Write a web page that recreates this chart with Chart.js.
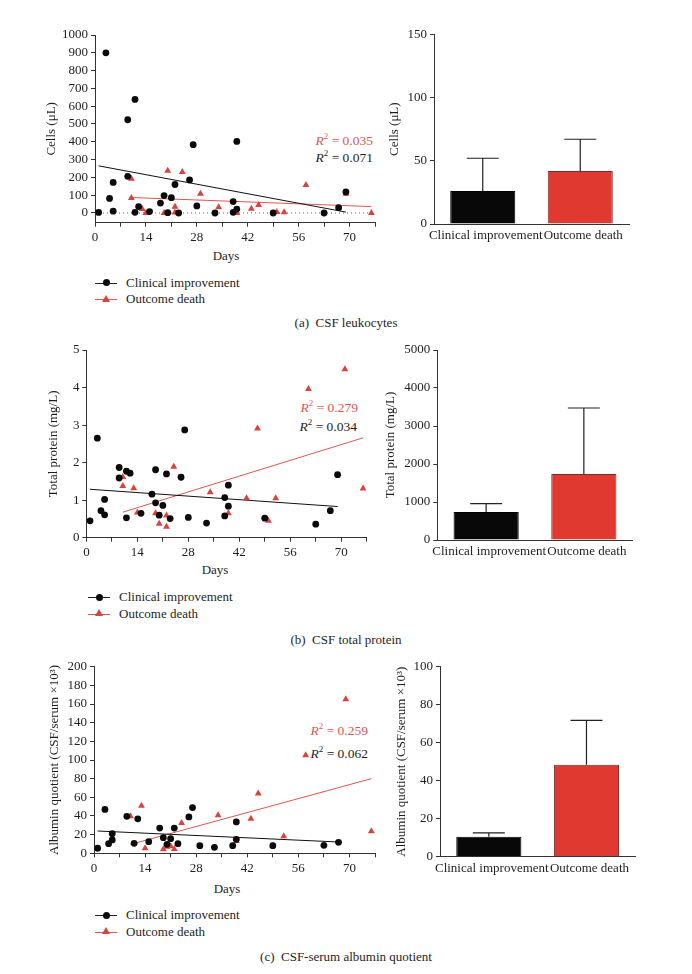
<!DOCTYPE html>
<html>
<head>
<meta charset="utf-8">
<script src="https://cdn.jsdelivr.net/npm/chart.js@4.4.1/dist/chart.umd.min.js"></script>
<style>
  body { margin: 0; background: #fff; }
  #fig { position: relative; width: 692px; height: 974px; font-family: "Liberation Serif", serif; color: #1e1e1e; overflow: hidden; }
  #fig canvas { position: absolute; }
  .note { position: absolute; font-size: 13.5px; white-space: nowrap; transform: translate(-100%, -50%); line-height: 16px; }
  .note sup { font-size: 9px; vertical-align: 6px; line-height: 0; }
  .note.red { color: #e0554f; }
  .xtitle { position: absolute; font-size: 13px; transform: translate(-50%, -50%); }
  .caption { position: absolute; left: 0; width: 692px; text-align: center; font-size: 13px; transform: translateY(-50%); }
  .legend { position: absolute; font-size: 13px; }
  .legend div { position: relative; height: 16.5px; line-height: 16.5px; padding-left: 31px; white-space: nowrap; }
  .legend .ln { position: absolute; left: 0; top: 8px; width: 22px; height: 1px; background: #222; }
  .legend .ln.red { background: #e0554f; }
  .legend .dot { position: absolute; left: 7.5px; top: 4.5px; width: 7px; height: 7px; border-radius: 50%; background: #0b0b0b; }
  .legend .tri { position: absolute; left: 7px; top: 3.5px; width: 0; height: 0; border-left: 4px solid transparent; border-right: 4px solid transparent; border-bottom: 7px solid #d8433d; }
</style>
</head>
<body>
<div id="fig">
  <div class="note red" style="left:373px;top:141px"><i>R</i><sup>2</sup> = 0.035</div>
  <div class="note" style="left:373px;top:158px"><i>R</i><sup>2</sup> = 0.071</div>
  <div class="xtitle" style="left:226px;top:256px">Days</div>
  <div class="legend" style="left:95px;top:274.5px">
    <div><span class="ln"></span><span class="dot"></span>Clinical improvement</div>
    <div><span class="ln red"></span><span class="tri"></span>Outcome death</div>
  </div>
  <div class="caption" style="top:323px">(a)&nbsp;&nbsp;CSF leukocytes</div>

  <div class="note red" style="left:358px;top:408px"><i>R</i><sup>2</sup> = 0.279</div>
  <div class="note" style="left:357px;top:427px"><i>R</i><sup>2</sup> = 0.034</div>
  <div class="xtitle" style="left:215px;top:570px">Days</div>
  <div class="legend" style="left:88px;top:589px">
    <div><span class="ln"></span><span class="dot"></span>Clinical improvement</div>
    <div><span class="ln red"></span><span class="tri"></span>Outcome death</div>
  </div>
  <div class="caption" style="top:640px">(b)&nbsp;&nbsp;CSF total protein</div>

  <div class="note red" style="left:368px;top:731px"><i>R</i><sup>2</sup> = 0.259</div>
  <div class="note" style="left:368px;top:754px"><i>R</i><sup>2</sup> = 0.062</div>
  <div class="xtitle" style="left:227px;top:889px">Days</div>
  <div class="legend" style="left:95px;top:907px">
    <div><span class="ln"></span><span class="dot"></span>Clinical improvement</div>
    <div><span class="ln red"></span><span class="tri"></span>Outcome death</div>
  </div>
  <div class="caption" style="top:957px">(c)&nbsp;&nbsp;CSF-serum albumin quotient</div>
</div>
<script>
// ---- data ----
const groups = ['Clinical improvement', 'Outcome death'];
const dayTicks = [0, 7, 14, 21, 28, 35, 42, 49, 56, 63, 70, 77];

// (a) CSF leukocytes
const leukoImpDays = [1, 3, 4, 5, 5, 9, 9, 11, 11, 12, 15, 18, 19, 20, 21, 22, 23, 26, 27, 28, 33, 38, 38, 39, 39, 49, 63, 67, 69];
const leukoImp     = [3, 900, 82, 172, 10, 524, 206, 638, 4, 36, 8, 56, 98, 2, 86, 160, 0, 186, 384, 40, 0, 64, 4, 402, 22, 0, 0, 30, 118];
const leukoDeathDays = [10, 10, 13, 14, 19, 20, 22, 22, 24, 29, 34, 39, 43, 45, 50, 52, 58, 69, 76];
const leukoDeath     = [192, 84, 22, 0, 0, 238, 35, 3, 230, 108, 32, 0, 24, 45, 6, 4, 158, 108, 0];
const leukoImpFitDays = [1, 69],  leukoImpFit = [265, 5];
const leukoDeathFitDays = [10, 76], leukoDeathFit = [87, 36];
const leukoZeroDays = [0, 77], leukoZero = [0, 0];
const leukoTicks = [0, 100, 200, 300, 400, 500, 600, 700, 800, 900, 1000];
const leukoMean = [26, 42];
const leukoUpper = [52, 67];
const leukoBarTicks = [0, 50, 100, 150];

// (b) CSF total protein
const protImpDays = [1, 3, 4, 5, 5, 9, 9, 11, 11, 12, 15, 18, 19, 19, 20, 21, 22, 23, 26, 27, 28, 33, 38, 38, 39, 39, 49, 63, 67, 69];
const protImp     = [0.45, 2.65, 0.72, 1.02, 0.61, 1.87, 1.59, 1.77, 0.53, 1.72, 0.65, 1.16, 1.81, 0.93, 0.60, 0.86, 1.70, 0.51, 1.61, 2.87, 0.54, 0.39, 1.07, 0.58, 1.40, 0.84, 0.52, 0.36, 0.72, 1.68];
const protDeathDays = [10, 10, 13, 14, 19, 20, 22, 22, 24, 34, 39, 44, 47, 50, 52, 61, 71, 76];
const protDeath     = [1.62, 1.38, 1.32, 0.67, 0.65, 0.37, 0.59, 0.29, 1.89, 1.21, 0.65, 1.05, 2.91, 0.45, 1.05, 3.96, 4.49, 1.31];
const protImpFitDays = [1, 69], protImpFit = [1.29, 0.83];
const protDeathFitDays = [10, 76], protDeathFit = [0.68, 2.66];
const protTicks = [0, 1, 2, 3, 4, 5];
const protMean = [737, 1737];
const protUpper = [955, 3474];
const protBarTicks = [0, 1000, 2000, 3000, 4000, 5000];

// (c) CSF-serum albumin quotient
const albImpDays = [1, 3, 4, 5, 5, 9, 11, 12, 15, 18, 19, 20, 21, 22, 23, 26, 27, 29, 33, 38, 39, 39, 49, 63, 67];
const albImp     = [5.4, 47, 10.3, 21, 14.3, 39.6, 10.7, 37, 12.5, 27, 16.8, 9.6, 15.7, 27, 10.3, 39, 49, 8.2, 6.4, 8.2, 33.6, 15, 8.2, 8.6, 11.8];
const albDeathDays = [10, 13, 14, 19, 20, 21, 22, 24, 34, 39, 43, 45, 49, 52, 58, 69, 76];
const albDeath     = [39.6, 51, 5.4, 4.3, 7, 7.5, 4.6, 32.5, 40.7, 13.2, 37, 64, 8.2, 18.2, 105, 165, 23.6];
const albImpFitDays = [1, 67], albImpFit = [23.9, 12.1];
const albDeathFitDays = [10, 76], albDeathFit = [9.5, 80];
const albTicks = [0, 20, 40, 60, 80, 100, 120, 140, 160, 180, 200];
const albMean = [10.5, 48.4];
const albUpper = [12.5, 71.8];
const albBarTicks = [0, 20, 40, 60, 80, 100];

// ---- look ----
const INK = '#1e1e1e';
const AXIS = '#333';
const RED_PT = '#d8433d';
const RED_LINE = '#e0554f';
const RED_BAR = '#e0392f';

Chart.defaults.font.family = '"Liberation Serif", serif';
Chart.defaults.font.size = 13;
Chart.defaults.color = INK;

function pairs(xs, ys) {
  return xs.map((x, i) => ({ x: x, y: ys[i] }));
}

// canvas box [x, y, w, h] and wanted plot area, in page pixels
function frame(p) {
  const half = 13 * 1.2 / 2 + 4;
  const padL = p.yTitleX - p.box[0] - half;
  const xh = p.xh || 30;
  return {
    padding: {
      left: padL,
      top: p.area.t - p.box[1],
      right: p.box[0] + p.box[2] - p.area.r,
      bottom: p.box[1] + p.box[3] - p.area.b - xh
    },
    yw: p.area.l - p.box[0] - padL,
    xh: xh
  };
}

function addCanvas(box) {
  const c = document.createElement('canvas');
  c.width = box[2];
  c.height = box[3];
  c.style.left = box[0] + 'px';
  c.style.top = box[1] + 'px';
  document.getElementById('fig').appendChild(c);
  return c;
}

function yAxis(f, title, ticks, min, max) {
  return {
    type: 'linear', min: min, max: max,
    title: { display: true, text: title, font: { size: 13 }, color: INK },
    grid: { drawOnChartArea: false, drawTicks: true, tickLength: 4, color: AXIS },
    border: { color: AXIS, width: 1 },
    ticks: { padding: 3, color: INK, callback: v => String(v) },
    afterBuildTicks: s => { s.ticks = ticks.map(v => ({ value: v })); },
    afterFit: s => { s.width = f.yw; }
  };
}

const errorBars = {
  id: 'errorBars',
  afterDatasetsDraw(chart, args, opts) {
    const ctx = chart.ctx;
    const y = chart.scales.y;
    const meta = chart.getDatasetMeta(0);
    ctx.save();
    ctx.strokeStyle = '#222';
    ctx.lineWidth = 1.2;
    meta.data.forEach((bar, i) => {
      const top = y.getPixelForValue(opts.upper[i]);
      ctx.beginPath();
      ctx.moveTo(bar.x, bar.y);
      ctx.lineTo(bar.x, top);
      ctx.moveTo(bar.x - 16, top);
      ctx.lineTo(bar.x + 16, top);
      ctx.stroke();
    });
    ctx.restore();
  }
};

function scatterChart(p, s) {
  const f = frame(p);
  const sets = [
    { data: pairs(s.impDays, s.imp), pointStyle: 'circle', pointRadius: 3.4, backgroundColor: '#0b0b0b', borderWidth: 0, order: 0 },
    { data: pairs(s.deathDays, s.death), pointStyle: 'triangle', pointRadius: 4, backgroundColor: RED_PT, borderWidth: 0, order: 0 },
    { type: 'line', data: pairs(s.impFitDays, s.impFit), borderColor: '#111', borderWidth: 1, pointRadius: 0, order: 1 },
    { type: 'line', data: pairs(s.deathFitDays, s.deathFit), borderColor: RED_LINE, borderWidth: 1, pointRadius: 0, order: 1 }
  ];
  if (s.zeroDays) {
    sets.push({ type: 'line', data: pairs(s.zeroDays, s.zero), borderColor: '#666', borderWidth: 1, borderDash: [1, 3], pointRadius: 0, order: 2 });
  }
  new Chart(addCanvas(p.box), {
    type: 'scatter',
    data: { datasets: sets },
    options: {
      responsive: false, animation: false,
      layout: { padding: f.padding },
      plugins: { legend: { display: false }, tooltip: { enabled: false } },
      scales: {
        x: {
          type: 'linear', min: 0, max: 77,
          grid: { drawOnChartArea: false, drawTicks: true, tickLength: 4, color: AXIS },
          border: { color: AXIS, width: 1 },
          ticks: { padding: 3, color: INK, maxRotation: 0, autoSkip: false, callback: v => (v % 14 === 0 ? String(v) : '') },
          afterBuildTicks: sc => { sc.ticks = dayTicks.map(v => ({ value: v })); },
          afterFit: sc => { sc.height = f.xh; }
        },
        y: yAxis(f, s.yTitle, s.yTicks, s.yMin, s.yMax)
      }
    }
  });
}

function barChart(p, b) {
  const f = frame(p);
  new Chart(addCanvas(p.box), {
    type: 'bar',
    data: {
      labels: groups,
      datasets: [{
        data: b.mean,
        backgroundColor: ['#080808', RED_BAR],
        borderColor: ['#000', '#7d2a26'],
        borderWidth: 1,
        categoryPercentage: 1,
        barPercentage: 0.667
      }]
    },
    plugins: [errorBars],
    options: {
      responsive: false, animation: false,
      layout: { padding: f.padding },
      plugins: { legend: { display: false }, tooltip: { enabled: false }, errorBars: { upper: b.upper } },
      scales: {
        x: {
          grid: { display: true, drawOnChartArea: false, drawTicks: false, color: AXIS },
          border: { color: AXIS, width: 1 },
          ticks: { padding: 4, color: INK, font: { size: 13 }, labelOffset: 3, maxRotation: 0, autoSkip: false },
          afterFit: sc => { sc.height = f.xh; }
        },
        y: yAxis(f, b.yTitle, b.yTicks, 0, b.yMax)
      }
    }
  });
}

// ---- placement (page pixels) ----
const layout = {
  leukoScatter: { box: [0, 0, 380, 275], area: { l: 95, t: 35, r: 375, b: 222.7 }, yTitleX: 52, xh: 30 },
  leukoBar:     { box: [380, 0, 312, 275], area: { l: 434, t: 34.3, r: 629, b: 224 }, yTitleX: 395 },
  protScatter:  { box: [0, 330, 380, 260], area: { l: 86.4, t: 350, r: 366.7, b: 537.7 }, yTitleX: 53.3, xh: 30 },
  protBar:      { box: [380, 330, 312, 260], area: { l: 437.3, t: 350, r: 632.7, b: 540 }, yTitleX: 391 },
  albScatter:   { box: [0, 648, 380, 258], area: { l: 94, t: 666.7, r: 375, b: 853.3 }, yTitleX: 54.3, xh: 30 },
  albBar:       { box: [380, 648, 312, 258], area: { l: 440, t: 666.7, r: 635.3, b: 856.7 }, yTitleX: 401.7 }
};

scatterChart(layout.leukoScatter, {
  impDays: leukoImpDays, imp: leukoImp, deathDays: leukoDeathDays, death: leukoDeath,
  impFitDays: leukoImpFitDays, impFit: leukoImpFit, deathFitDays: leukoDeathFitDays, deathFit: leukoDeathFit,
  zeroDays: leukoZeroDays, zero: leukoZero,
  yTitle: 'Cells (μL)', yTicks: leukoTicks, yMin: -54.5, yMax: 1000
});
barChart(layout.leukoBar, { mean: leukoMean, upper: leukoUpper, yTitle: 'Cells (μL)', yTicks: leukoBarTicks, yMax: 150 });

scatterChart(layout.protScatter, {
  impDays: protImpDays, imp: protImp, deathDays: protDeathDays, death: protDeath,
  impFitDays: protImpFitDays, impFit: protImpFit, deathFitDays: protDeathFitDays, deathFit: protDeathFit,
  yTitle: 'Total protein (mg/L)', yTicks: protTicks, yMin: 0, yMax: 5
});
barChart(layout.protBar, { mean: protMean, upper: protUpper, yTitle: 'Total protein (mg/L)', yTicks: protBarTicks, yMax: 5000 });

scatterChart(layout.albScatter, {
  impDays: albImpDays, imp: albImp, deathDays: albDeathDays, death: albDeath,
  impFitDays: albImpFitDays, impFit: albImpFit, deathFitDays: albDeathFitDays, deathFit: albDeathFit,
  yTitle: 'Albumin quotient (CSF/serum ×10³)', yTicks: albTicks, yMin: 0, yMax: 200
});
barChart(layout.albBar, { mean: albMean, upper: albUpper, yTitle: 'Albumin quotient (CSF/serum ×10³)', yTicks: albBarTicks, yMax: 100 });
</script>
</body>
</html>
